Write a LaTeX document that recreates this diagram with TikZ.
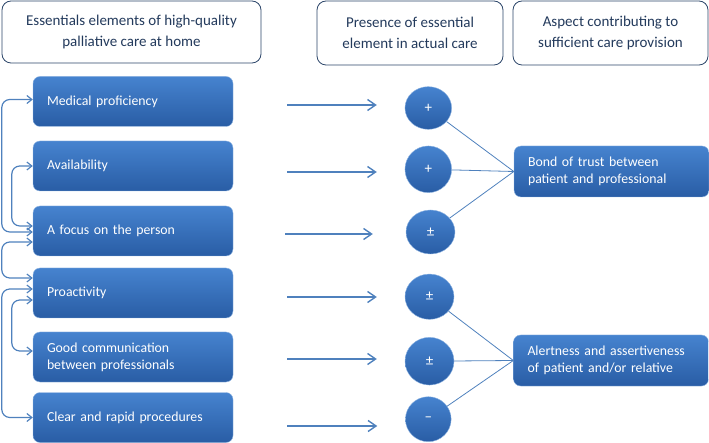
\documentclass[tikz,border=0pt]{standalone}
\usepackage{fontspec}
\setmainfont{Carlito}
\usetikzlibrary{arrows.meta, shapes.geometric}

\definecolor{boxtop}{RGB}{70,131,207}
\definecolor{boxbot}{RGB}{41,93,165}
\definecolor{linkblue}{RGB}{79,129,189}
\definecolor{headline}{RGB}{44,70,106}
\definecolor{headtext}{RGB}{35,58,92}

\begin{document}
\begin{tikzpicture}[x=1pt, y=-1pt,
  head/.style={draw=headline, line width=0.8pt, rounded corners=9pt, fill=white, text=headtext, align=center, inner sep=0pt, font=\fontsize{15}{21.5}\selectfont},
  elem/.style={rounded corners=7pt, top color=boxtop, bottom color=boxbot, draw=boxtop!60!white, line width=0.4pt, text=white, minimum width=200pt, minimum height=50pt, text width=172pt, inner xsep=14pt, align=left, font=\fontsize{13.8}{17}\selectfont},
  aspect/.style={elem, minimum width=195pt, minimum height=51pt, text width=167pt},
  sign/.style={ellipse, top color=boxtop, bottom color=boxbot, draw=boxtop!60!white, line width=0.4pt, text=white, inner sep=0pt, font=\fontsize{15}{15}\selectfont},
  flow/.style={linkblue, line width=1.4pt, -{Straight Barb[length=8pt, width=11pt]}},
  link/.style={linkblue, line width=1.2pt, rounded corners=8pt, {Straight Barb[length=5pt, width=8pt]}-{Straight Barb[length=5pt, width=8pt]}},
  tie/.style={linkblue, line width=0.8pt}]
  \useasboundingbox (0,0) rectangle (709,443);

  % column headers
  \node[head, minimum width=259pt, minimum height=62pt] (h1) at (131.5,32) {Essentials elements of high-quality\\palliative care at home};
  \node[head, minimum width=186pt, minimum height=64pt] (h2) at (410,33) {Presence of essential\\element in actual care};
  \node[head, minimum width=195pt, minimum height=64pt] (h3) at (610.5,33) {Aspect contributing to\\sufficient care provision};

  % essential elements
  \node[elem] (med) at (133,101.5) {Medical proficiency};
  \node[elem] (ava) at (133,166) {Availability};
  \node[elem] (foc) at (133,231) {A focus on the person};
  \node[elem] (pro) at (133,293) {Proactivity};
  \node[elem] (com) at (133,357) {Good communication\\between professionals};
  \node[elem] (clr) at (133,417.5) {Clear and rapid procedures};

  % presence in actual care
  \node[sign, minimum width=46.7pt, minimum height=42.7pt] (c1) at (428.3,108) {+};
  \node[sign, minimum width=46.7pt, minimum height=46.7pt] (c2) at (428.3,169.3) {+};
  \node[sign, minimum width=49pt, minimum height=44pt] (c3) at (430.5,232) {±};
  \node[sign, minimum width=49pt, minimum height=45.3pt] (c4) at (429.5,296.7) {±};
  \node[sign, minimum width=49pt, minimum height=47.7pt] (c5) at (429.5,361.2) {±};
  \node[sign, minimum width=45.7pt, minimum height=45pt] (c6) at (428.3,419.2) {–};

  % contributing aspects
  \node[aspect] (bond) at (611.5,171.5) {Bond of trust between\\patient and professional};
  \node[aspect, minimum width=194pt] (alert) at (611,360.5) {Alertness and assertiveness\\of patient and/or relative};

  % element -> presence
  \draw[flow] ([xshift=54pt, yshift=-3.5pt]med.east) -- ([xshift=-28pt, yshift=-3.5pt]med.east -| c1.west);
  \draw[flow] ([xshift=54pt, yshift=-6pt]ava.east) -- ([xshift=-28pt, yshift=-6pt]ava.east -| c2.west);
  \draw[flow] ([xshift=52pt, yshift=-3pt]foc.east) -- ([xshift=-33pt, yshift=-3pt]foc.east -| c3.west);
  \draw[flow] ([xshift=54pt, yshift=-4pt]pro.east) -- ([xshift=-28pt, yshift=-4pt]pro.east -| c4.west);
  \draw[flow] ([xshift=54pt, yshift=-2pt]com.east) -- ([xshift=-28pt, yshift=-2pt]com.east -| c5.west);
  \draw[flow] ([xshift=54pt, yshift=-8.5pt]clr.east) -- ([xshift=-28pt, yshift=-8.5pt]clr.east -| c6.west);

  % presence -> aspect
  \draw[tie] (c1) -- (bond.west);
  \draw[tie] (c2) -- (bond.west);
  \draw[tie] (c3) -- (bond.west);
  \draw[tie] (c4) -- (alert.west);
  \draw[tie] (c5) -- (alert.west);
  \draw[tie] (c6) -- (alert.west);

  % links between elements
  \draw[link] ([yshift=2pt]med.west) -- ++(-31,0) |- ([yshift=-1pt]foc.west);
  \draw[link] (ava.west) -- ++(-21,0) |- ([yshift=5pt]foc.west);
  \draw[link] ([yshift=-11pt]foc.west) -- ++(-31,0) |- ([yshift=15pt]pro.west);
  \draw[link] ([yshift=4pt]pro.west) -- ++(-31,0) |- (clr.west);
  \draw[link] ([yshift=-7pt]pro.west) -- ++(-21,0) |- ([yshift=6pt]com.west);
\end{tikzpicture}
\end{document}
